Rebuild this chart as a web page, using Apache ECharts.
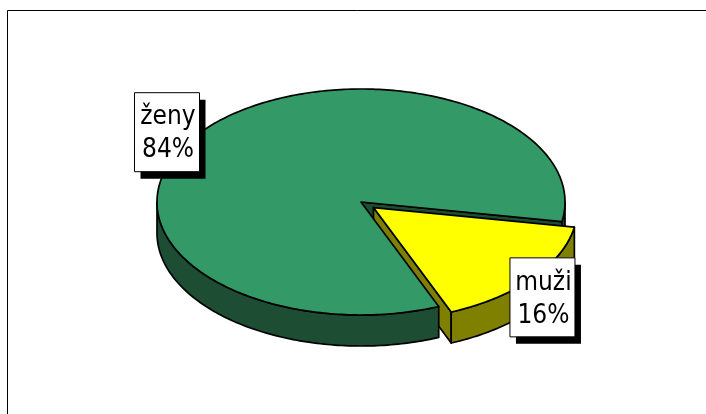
<!DOCTYPE html>
<html>
<head>
<meta charset="utf-8">
<script src="https://cdn.jsdelivr.net/npm/echarts@6/dist/echarts.min.js"></script>
<style>
  html, body { margin: 0; padding: 0; background: #ffffff; }
  #chart { width: 706px; height: 414px; }
</style>
</head>
<body>
<div id="chart"></div>
<script>
// Share of women and men
const categories = ['ženy', 'muži'];
const values = [84, 16];

// Appearance of each slice
const topColors = ['#339966', '#ffff00'];
const sideColors = ['#1d4d33', '#808000'];
const explodeFlags = [0, 1];
const labelShift = [[-35, 1], [10, 19]];

// Projection of the tilted disc
const disc = { cx: 361, cy: 202, rx: 204, ry: 113, depth: 31, explode: 16, startAngle: 67.6 };

const total = values.reduce((a, b) => a + b, 0);
const rad = d => d * Math.PI / 180;

function sliceAngles(i) {
  let a = disc.startAngle;
  for (let k = 0; k < i; k++) a += values[k] / total * 360;
  return [a, a + values[i] / total * 360];
}

function pt(a, ox, oy, dz) {
  return [disc.cx + ox + disc.rx * Math.cos(rad(a)), disc.cy + oy + disc.ry * Math.sin(rad(a)) + (dz || 0)];
}

function arc(a1, a2, ox, oy, dz) {
  const pts = [];
  const n = Math.max(2, Math.ceil(Math.abs(a2 - a1)));
  for (let s = 0; s <= n; s++) pts.push(pt(a1 + (a2 - a1) * s / n, ox, oy, dz));
  return pts;
}

// Parts of [a1, a2] that lie on the near half of the rim
function frontRanges(a1, a2) {
  const out = [];
  for (let base = -720; base <= 720; base += 360) {
    const lo = Math.max(a1, base), hi = Math.min(a2, base + 180);
    if (hi > lo) out.push([lo, hi]);
  }
  return out;
}

const edge = { stroke: '#000000', lineWidth: 1.7, lineJoin: 'round' };

function renderItem(params, api) {
  const i = params.dataIndex;
  const [a1, a2] = sliceAngles(i);
  const mid = (a1 + a2) / 2;
  const e = explodeFlags[i] ? disc.explode : 0;
  const ox = e * Math.cos(rad(mid));
  const oy = e * Math.sin(rad(mid)) * disc.ry / disc.rx;
  const c = [disc.cx + ox, disc.cy + oy];
  const d = disc.depth;
  const children = [];

  // cut faces that turn toward the viewer
  [[a1, -90], [a2, 90]].forEach(([a, turn]) => {
    if (Math.sin(rad(a + turn)) > 0) {
      const p = pt(a, ox, oy);
      children.push({
        type: 'polygon', z2: 1,
        shape: { points: [c, p, [p[0], p[1] + d], [c[0], c[1] + d]] },
        style: Object.assign({ fill: sideColors[i] }, edge)
      });
    }
  });

  // outer rim
  frontRanges(a1, a2).forEach(([lo, hi]) => {
    const top = arc(lo, hi, ox, oy, 0);
    const bottom = arc(hi, lo, ox, oy, d);
    children.push({
      type: 'polygon', z2: 2,
      shape: { points: top.concat(bottom) },
      style: Object.assign({ fill: sideColors[i] }, edge)
    });
  });

  // top face
  children.push({
    type: 'polygon', z2: 3,
    shape: { points: [c].concat(arc(a1, a2, ox, oy, 0)) },
    style: Object.assign({ fill: topColors[i] }, edge)
  });

  // data label with a hard drop shadow
  const anchor = pt(mid, ox, oy);
  const lx = anchor[0] + labelShift[i][0];
  const ly = anchor[1] + labelShift[i][1];
  const bw = 65, bh = 79;
  children.push({
    type: 'rect', z2: 10,
    shape: { x: lx - bw / 2 + 6, y: ly - bh / 2 + 7, width: bw, height: bh },
    style: { fill: '#000000' }
  });
  children.push({
    type: 'rect', z2: 11,
    shape: { x: lx - bw / 2, y: ly - bh / 2, width: bw, height: bh },
    style: { fill: '#ffffff', stroke: '#000000', lineWidth: 1 }
  });
  const pct = Math.round(api.value(0) / total * 100) + '%';
  children.push({
    type: 'text', z2: 12,
    style: {
      text: categories[i] + '\n' + pct,
      x: lx + 1, y: ly + 2,
      align: 'center', verticalAlign: 'middle',
      font: '26px "DejaVu Sans Condensed", "DejaVu Sans", sans-serif',
      lineHeight: 33,
      fill: '#000000'
    }
  });

  return { type: 'group', children };
}

const chart = echarts.init(document.getElementById('chart'), null, { renderer: 'canvas' });
chart.setOption({
  backgroundColor: '#ffffff',
  animation: false,
  graphic: [{
    type: 'rect', silent: true, z: -1,
    shape: { x: 7.5, y: 10.5, width: 720, height: 430 },
    style: { fill: 'none', stroke: '#000000', lineWidth: 1 }
  }],
  series: [{
    type: 'custom',
    coordinateSystem: 'none',
    renderItem: renderItem,
    data: values.map(v => [v])
  }]
});
</script>
</body>
</html>
